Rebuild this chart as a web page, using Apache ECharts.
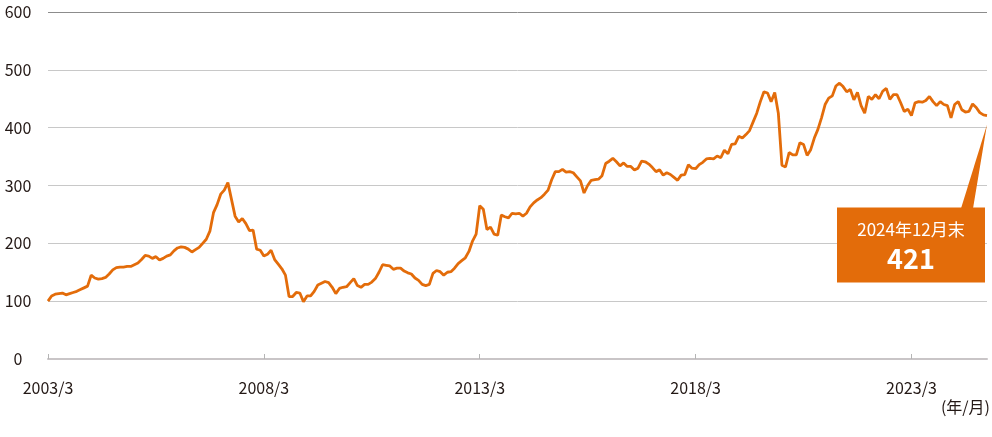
<!DOCTYPE html>
<html>
<head>
<meta charset="utf-8">
<script src="https://cdn.jsdelivr.net/npm/echarts@6/dist/echarts.min.js"></script>
<style>
html,body{margin:0;padding:0;background:#fff;}
#chart{width:992px;height:437px;}
</style>
</head>
<body>
<div id="chart"></div>
<script>
// monthly categories 2003/3 .. 2024/12
var startYear = 2003, startMonth = 3, monthCount = 262;
var categories = [];
for (var k = 0; k < monthCount; k++) {
  var m = startMonth - 1 + k;
  categories.push((startYear + Math.floor(m / 12)) + '/' + (m % 12 + 1));
}
var values = [
100,109,112,113,114,111,113,115,117,120,123,126,
145,140,138,139,141,147,154,158,159,159,160,160,
163,166,172,179,178,174,177,171,174,178,180,187,
192,194,193,190,185,189,193,200,207,221,253,267,
285,292,305,276,247,237,243,234,222,223,190,188,
178,181,188,172,164,156,145,108,108,115,114,99,
109,109,117,128,131,134,132,124,113,122,124,125,
132,139,127,124,129,129,133,139,150,163,162,161,
155,157,157,152,149,147,140,136,129,127,129,148,
153,151,145,150,151,157,165,170,175,186,204,216,
265,259,224,228,216,214,249,246,244,252,251,252,
247,252,263,270,275,279,285,292,310,324,324,328,
323,324,322,315,308,287,300,309,310,311,317,338,
342,347,341,334,339,333,333,327,330,342,341,337,
331,324,327,318,322,319,314,309,318,319,336,330,
329,336,340,346,347,346,351,348,361,355,371,372,
385,382,388,395,410,425,445,462,460,445,461,425,
335,332,357,353,353,374,371,352,362,382,397,417,
440,451,455,472,477,471,462,466,448,461,438,425,
454,449,457,450,463,468,449,457,457,443,428,432,
421,443,445,444,447,454,445,438,445,440,438,417,
440,445,431,427,428,441,435,426,422,421
];
var yTicks = [0, 100, 200, 300, 400, 500, 600];
var unitLabel = '(年/月)';
var calloutSuffix = '末';

var FONT = '"Noto Sans CJK JP", "Noto Sans", sans-serif';
var ORANGE = '#e36c0a';
var chart = echarts.init(document.getElementById('chart'), null, {renderer: 'canvas'});
var gridCol = '#c8c8c8';
chart.setOption({
  animation: false,
  grid: {left: 48, right: 5, top: 12, bottom: 78, containLabel: false},
  xAxis: {
    type: 'category',
    data: categories,
    boundaryGap: false,
    axisLine: {lineStyle: {color: '#c9c5c7', width: 2}},
    axisTick: {show: true, inside: true, length: 5, interval: 59, lineStyle: {color: '#b5b5b5', width: 1}},
    axisLabel: {interval: 59, margin: 21, color: '#231815', fontSize: 16, fontFamily: FONT},
    splitLine: {show: false}
  },
  yAxis: {
    type: 'value',
    min: yTicks[0],
    max: yTicks[yTicks.length - 1],
    interval: 100,
    axisLine: {show: false},
    axisTick: {show: false},
    axisLabel: {align: 'center', margin: 30, color: '#231815', fontSize: 16, fontFamily: FONT},
    splitLine: {lineStyle: {color: [gridCol, gridCol, gridCol, gridCol, gridCol, gridCol, '#8c8c8c'], width: 1}}
  },
  series: [{
    type: 'line',
    data: values,
    symbol: 'none',
    lineStyle: {color: ORANGE, width: 2.8},
    z: 3
  }]
});

// callout anchored to the last data point
var lastIdx = values.length - 1;
var tip = chart.convertToPixel({seriesIndex: 0}, [lastIdx, values[lastIdx]]);
var lastCat = categories[lastIdx].split('/');
var boxW = 148, boxH = 75;
var boxRight = tip[0] - 2;
var boxLeft = boxRight - boxW;
var boxTop = tip[1] + 92;
chart.setOption({
  graphic: [
    {
      type: 'polygon',
      shape: {points: [[boxRight - 24, boxTop + 1], [boxRight - 12, boxTop + 1], [tip[0], tip[1] + 9]]},
      style: {fill: ORANGE},
      z: 10
    },
    {
      type: 'rect',
      shape: {x: boxLeft, y: boxTop, width: boxW, height: boxH},
      style: {fill: ORANGE},
      z: 10
    },
    {
      type: 'text',
      x: boxLeft + boxW / 2,
      y: boxTop + 22,
      style: {text: lastCat[0] + '年' + lastCat[1] + '月' + calloutSuffix, fill: '#fff', font: '17px ' + FONT, align: 'center', verticalAlign: 'middle'},
      z: 11
    },
    {
      type: 'text',
      x: boxLeft + boxW / 2,
      y: boxTop + 51,
      style: {text: String(values[lastIdx]), fill: '#fff', font: 'bold 27px ' + FONT, align: 'center', verticalAlign: 'middle'},
      z: 11
    },
    {
      type: 'text',
      right: 2,
      top: 399,
      style: {text: unitLabel, fill: '#231815', font: '16px ' + FONT},
      z: 11
    }
  ]
});
</script>
</body>
</html>
